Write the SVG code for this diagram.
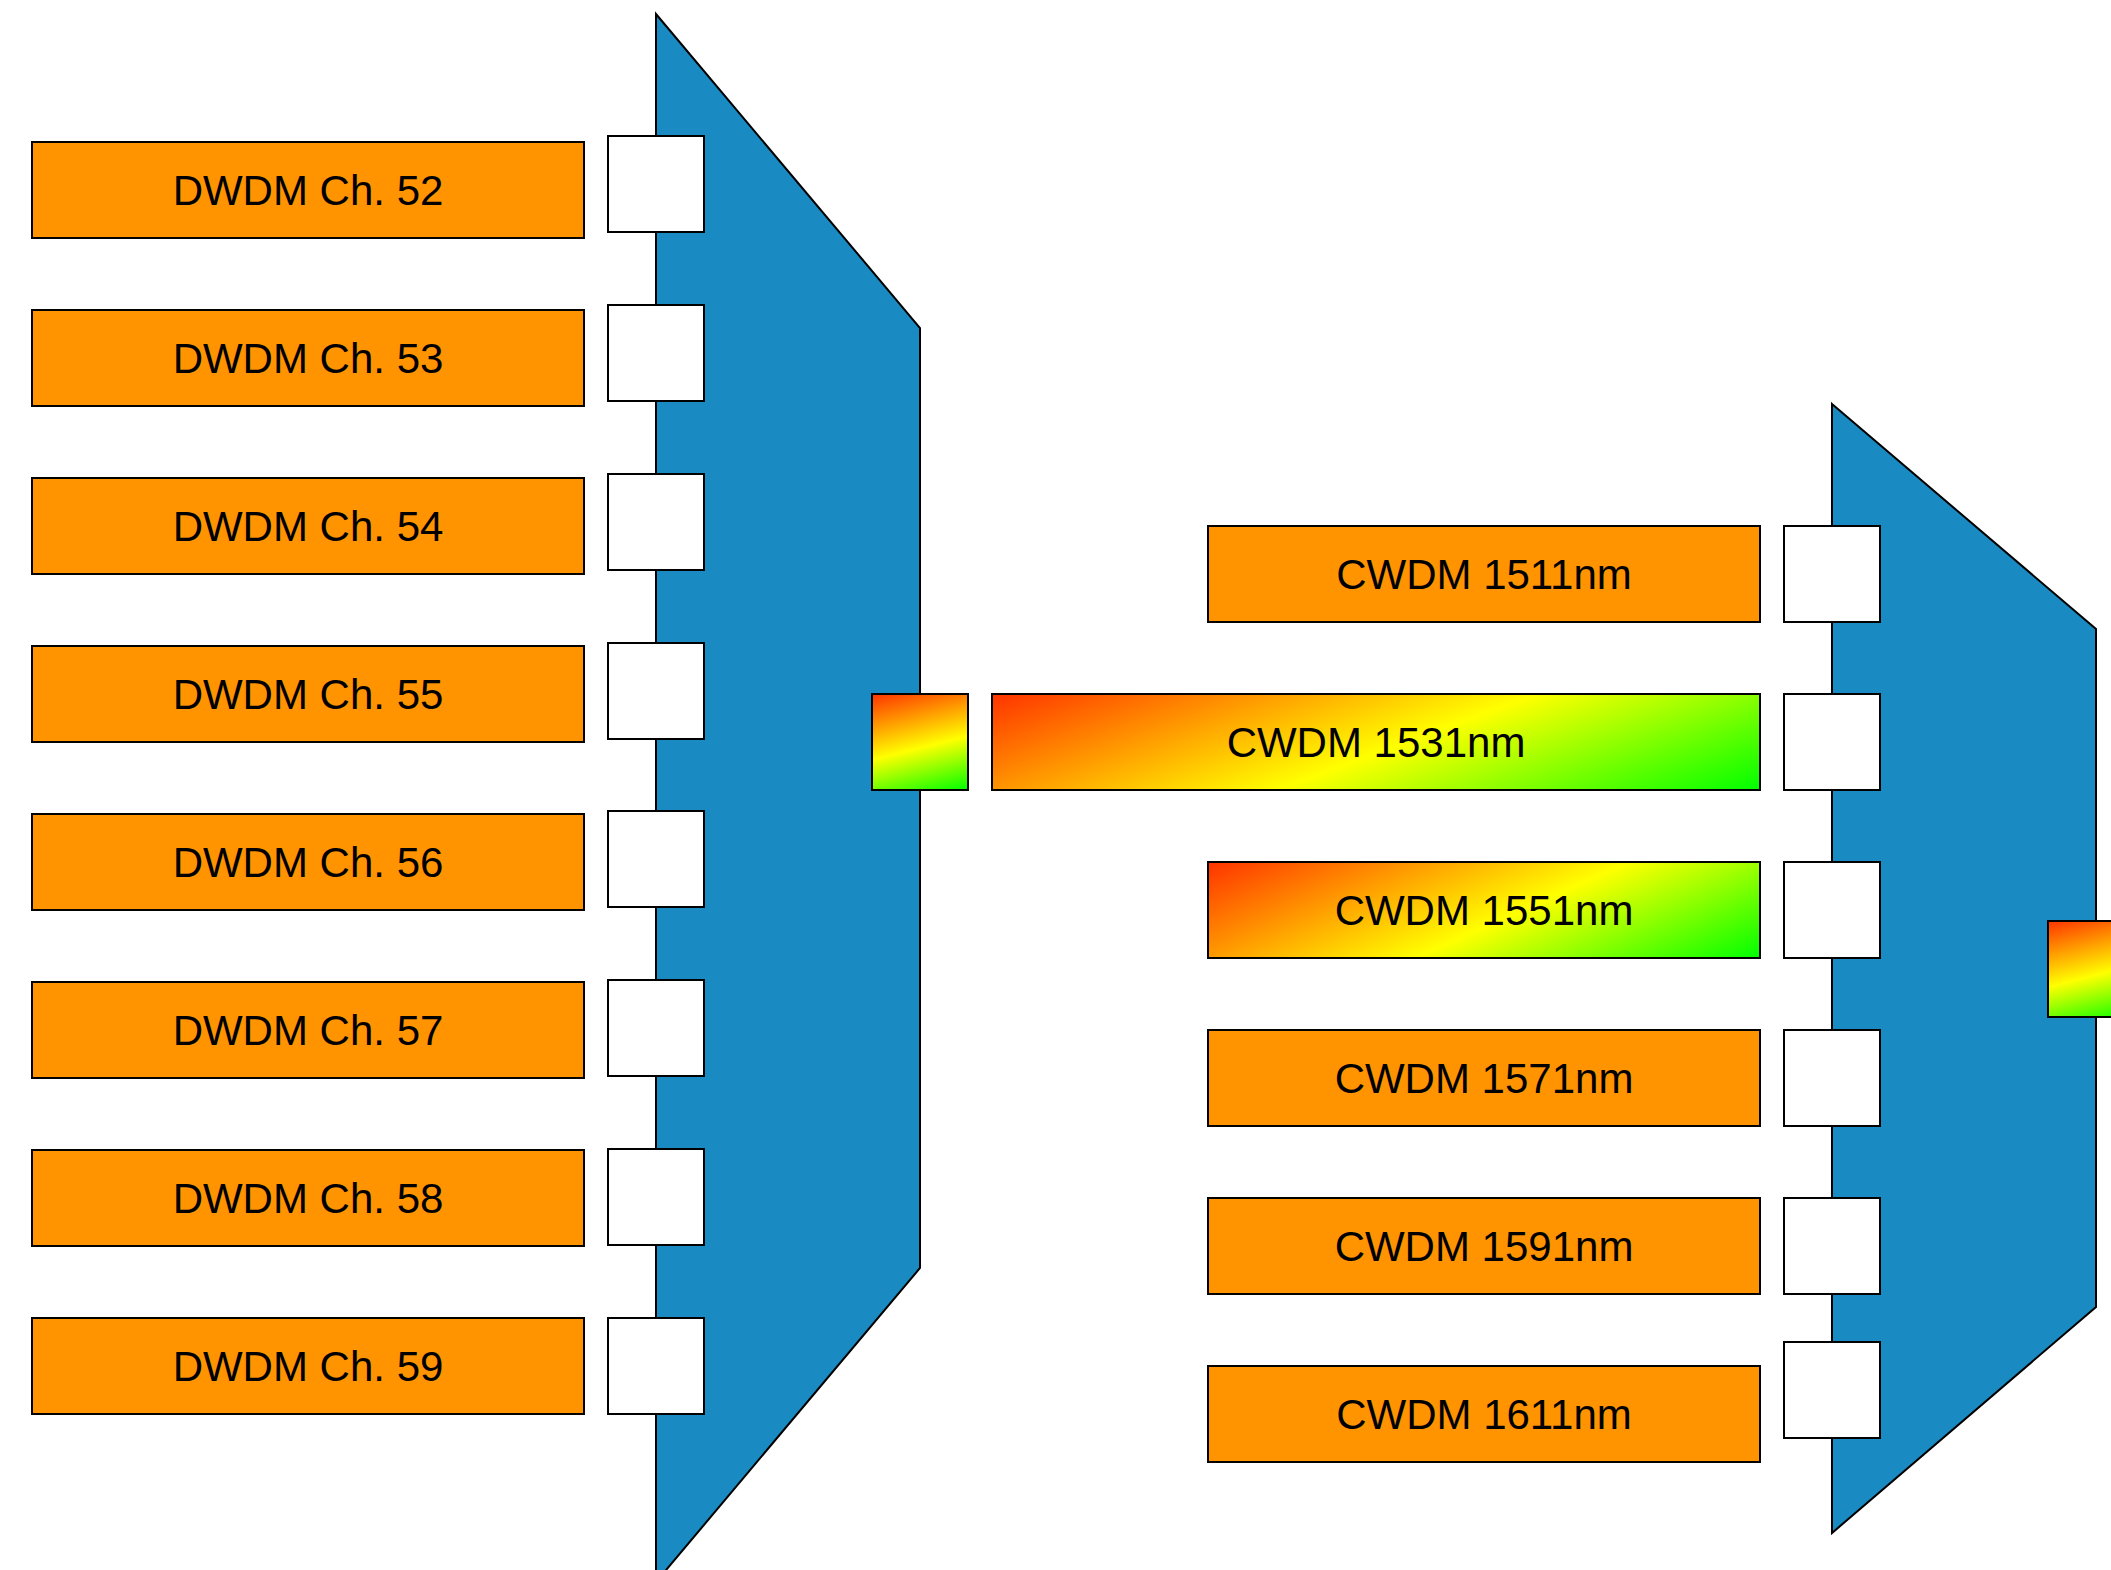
<svg xmlns="http://www.w3.org/2000/svg" width="2111" height="1570" viewBox="0 0 2111 1570">
  <style>
    .mux { fill: #1A8AC2; stroke: #000; stroke-width: 2; }
    .port { fill: #fff; stroke: #000; stroke-width: 2; }
    .ch { fill: #FF9300; stroke: #000; stroke-width: 2; }
    .grad { stroke: #000; stroke-width: 2; }
    text { font-family: "Liberation Sans", Arial, sans-serif; font-size: 42px; fill: #000; text-anchor: middle; }
  </style>
  <defs>
    <linearGradient id="gSqL" gradientUnits="userSpaceOnUse" x1="905.9" y1="685.5" x2="934.1" y2="798.5">
      <stop offset="0" stop-color="#FF3300"/><stop offset="0.55" stop-color="#FFFF00"/><stop offset="1" stop-color="#00FF00"/>
    </linearGradient>
    <linearGradient id="gSqR" gradientUnits="userSpaceOnUse" x1="2081.9" y1="912.5" x2="2110.1" y2="1025.5">
      <stop offset="0" stop-color="#FF3300"/><stop offset="0.55" stop-color="#FFFF00"/><stop offset="1" stop-color="#00FF00"/>
    </linearGradient>
    <linearGradient id="g1531" gradientUnits="userSpaceOnUse" x1="1314.1" y1="574.8" x2="1437.9" y2="909.2">
      <stop offset="0" stop-color="#FF3300"/><stop offset="0.53" stop-color="#FFFF00"/><stop offset="1" stop-color="#00FF00"/>
    </linearGradient>
    <linearGradient id="g1551" gradientUnits="userSpaceOnUse" x1="1419.6" y1="766.8" x2="1548.4" y2="1053.2">
      <stop offset="0" stop-color="#FF3300"/><stop offset="0.55" stop-color="#FFFF00"/><stop offset="1" stop-color="#00FF00"/>
    </linearGradient>
  </defs>

  <g id="connectors"/>

  <g id="dwdm-mux">
    <polygon class="mux" points="656,14 920,328 920,1268 656,1582"/>
  </g>
  <g id="cwdm-mux">
    <polygon class="mux" points="1832,404 2096,629 2096,1307 1832,1533"/>
  </g>

  <g id="dwdm-ports">
    <rect class="port" x="608" y="136" width="96" height="96"/>
    <rect class="port" x="608" y="305" width="96" height="96"/>
    <rect class="port" x="608" y="474" width="96" height="96"/>
    <rect class="port" x="608" y="643" width="96" height="96"/>
    <rect class="port" x="608" y="811" width="96" height="96"/>
    <rect class="port" x="608" y="980" width="96" height="96"/>
    <rect class="port" x="608" y="1149" width="96" height="96"/>
    <rect class="port" x="608" y="1318" width="96" height="96"/>
  </g>
  <g id="dwdm-common">
    <rect class="grad" fill="url(#gSqL)" x="872" y="694" width="96" height="96"/>
  </g>

  <g id="cwdm-ports">
    <rect class="port" x="1784" y="526" width="96" height="96"/>
    <rect class="port" x="1784" y="694" width="96" height="96"/>
    <rect class="port" x="1784" y="862" width="96" height="96"/>
    <rect class="port" x="1784" y="1030" width="96" height="96"/>
    <rect class="port" x="1784" y="1198" width="96" height="96"/>
    <rect class="port" x="1784" y="1342" width="96" height="96"/>
  </g>
  <g id="cwdm-common">
    <rect class="grad" fill="url(#gSqR)" x="2048" y="921" width="96" height="96"/>
  </g>

  <g id="ch52"><rect class="ch" x="32" y="142" width="552" height="96"/><text x="308" y="205">DWDM Ch. 52</text></g>
  <g id="ch53"><rect class="ch" x="32" y="310" width="552" height="96"/><text x="308" y="373">DWDM Ch. 53</text></g>
  <g id="ch54"><rect class="ch" x="32" y="478" width="552" height="96"/><text x="308" y="541">DWDM Ch. 54</text></g>
  <g id="ch55"><rect class="ch" x="32" y="646" width="552" height="96"/><text x="308" y="709">DWDM Ch. 55</text></g>
  <g id="ch56"><rect class="ch" x="32" y="814" width="552" height="96"/><text x="308" y="877">DWDM Ch. 56</text></g>
  <g id="ch57"><rect class="ch" x="32" y="982" width="552" height="96"/><text x="308" y="1045">DWDM Ch. 57</text></g>
  <g id="ch58"><rect class="ch" x="32" y="1150" width="552" height="96"/><text x="308" y="1213">DWDM Ch. 58</text></g>
  <g id="ch59"><rect class="ch" x="32" y="1318" width="552" height="96"/><text x="308" y="1381">DWDM Ch. 59</text></g>

  <g id="cwdm1511"><rect class="ch" x="1208" y="526" width="552" height="96"/><text x="1484" y="589">CWDM 1511nm</text></g>
  <g id="cwdm1531"><rect class="grad" fill="url(#g1531)" x="992" y="694" width="768" height="96"/><text x="1376" y="757">CWDM 1531nm</text></g>
  <g id="cwdm1551"><rect class="grad" fill="url(#g1551)" x="1208" y="862" width="552" height="96"/><text x="1484" y="925">CWDM 1551nm</text></g>
  <g id="cwdm1571"><rect class="ch" x="1208" y="1030" width="552" height="96"/><text x="1484" y="1093">CWDM 1571nm</text></g>
  <g id="cwdm1591"><rect class="ch" x="1208" y="1198" width="552" height="96"/><text x="1484" y="1261">CWDM 1591nm</text></g>
  <g id="cwdm1611"><rect class="ch" x="1208" y="1366" width="552" height="96"/><text x="1484" y="1429">CWDM 1611nm</text></g>
</svg>
